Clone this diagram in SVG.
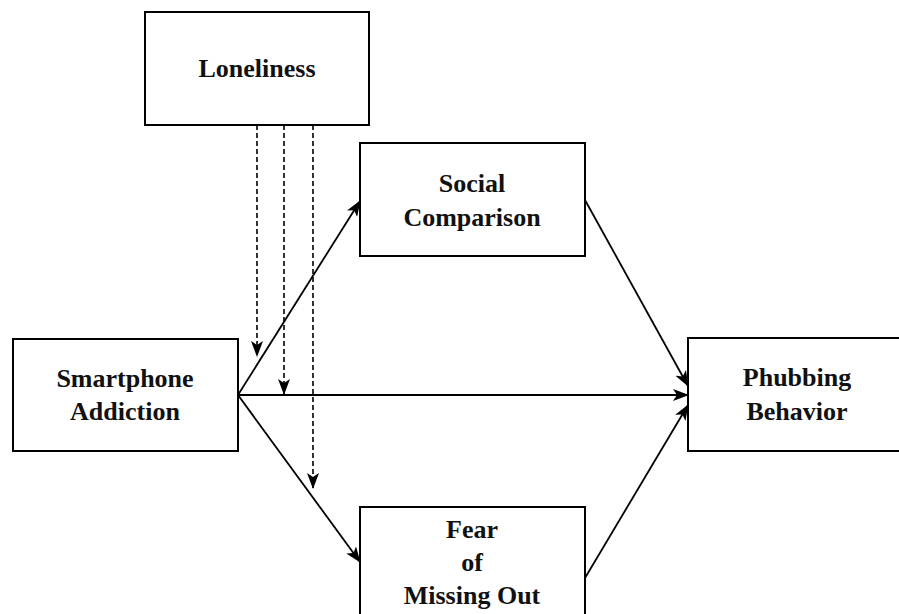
<svg xmlns="http://www.w3.org/2000/svg" width="899" height="614" viewBox="0 0 899 614">
<style>
.box{fill:#fff;stroke:#000;stroke-width:2}
.t{font-family:"Liberation Serif","Times New Roman",serif;font-weight:bold;font-size:26px;text-anchor:middle;fill:#111}
.ln{stroke:#000;stroke-width:1.8;fill:none}
.ds{stroke:#000;stroke-width:1.6;fill:none;stroke-dasharray:5 3}
</style>
<defs>
<marker id="ah" viewBox="0 0 16 12" refX="15" refY="6" markerWidth="16" markerHeight="12" markerUnits="userSpaceOnUse" orient="auto">
<path d="M0,0 L16,6 L0,12 L4,6 z" fill="#000"/>
</marker>
</defs>
<rect width="899" height="614" fill="#fff"/>
<g id="connectors">
<line class="ln" x1="238" y1="395" x2="360" y2="201" marker-end="url(#ah)"/>
<line class="ln" x1="238" y1="395" x2="688" y2="395" marker-end="url(#ah)"/>
<line class="ln" x1="238" y1="395" x2="360" y2="562" marker-end="url(#ah)"/>
<line class="ln" x1="585" y1="200" x2="688" y2="386" marker-end="url(#ah)"/>
<line class="ln" x1="585" y1="578" x2="688" y2="405" marker-end="url(#ah)"/>
<line class="ds" x1="257" y1="125" x2="257" y2="356" marker-end="url(#ah)"/>
<line class="ds" x1="284" y1="125" x2="284" y2="394" marker-end="url(#ah)"/>
<line class="ds" x1="313" y1="125" x2="313" y2="488" marker-end="url(#ah)"/>
</g>
<g id="loneliness">
<rect class="box" x="145" y="12" width="224" height="113"/>
<text class="t" x="257" y="77">Loneliness</text>
</g>
<g id="social-comparison">
<rect class="box" x="360" y="143" width="225" height="113"/>
<text class="t" x="472" y="192">Social</text>
<text class="t" x="472" y="226">Comparison</text>
</g>
<g id="smartphone-addiction">
<rect class="box" x="13" y="339" width="225" height="112"/>
<text class="t" x="125" y="387">Smartphone</text>
<text class="t" x="125" y="420">Addiction</text>
</g>
<g id="phubbing-behavior">
<rect class="box" x="688" y="338" width="220" height="113"/>
<text class="t" x="797" y="386">Phubbing</text>
<text class="t" x="797" y="420">Behavior</text>
</g>
<g id="fomo">
<rect class="box" x="360" y="507" width="225" height="120"/>
<text class="t" x="472" y="538">Fear</text>
<text class="t" x="472" y="571">of</text>
<text class="t" x="472" y="604">Missing Out</text>
</g>
</svg>
